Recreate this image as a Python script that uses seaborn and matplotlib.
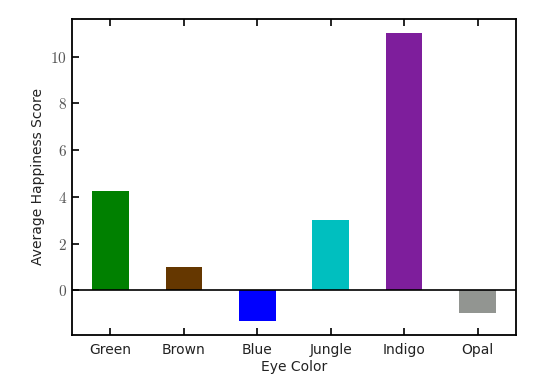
import matplotlib
matplotlib.use("Agg")
import matplotlib.pyplot as plt
import seaborn as sns
import pandas as pd

eye_colors = ["Green", "Brown", "Blue", "Jungle", "Indigo", "Opal"]
happiness = [4.25, 1.0, -1.3, 3.0, 11.0, -0.95]
bar_colors = ["#008000", "#653700", "#0000ff", "#00bfbf", "#7e1e9c", "#929591"]

sns.set_style("white")
plt.rcParams["font.family"] = ["DejaVu Sans"]
plt.rcParams["mathtext.fontset"] = "cm"

df = pd.DataFrame({"Eye Color": eye_colors, "Average Happiness Score": happiness})

fig, ax = plt.subplots(figsize=(5.37, 3.86), dpi=100)
sns.barplot(data=df, x="Eye Color", y="Average Happiness Score", hue="Eye Color",
            palette=bar_colors, width=0.5, legend=False, ax=ax,
            edgecolor="none", saturation=1)
ax.margins(x=0.05, y=0.05)
ax.set_xlim(-0.525, 5.525)
ax.axhline(0, color="black", lw=1.2)

for s in ax.spines.values():
    s.set_visible(True)
    s.set_color("black")
    s.set_linewidth(1.3)

ax.tick_params(axis="x", direction="in", top=True, bottom=True, length=5, width=1.2,
               labelsize=10, colors="black", labelcolor="#222222", pad=6)
ax.tick_params(axis="y", direction="in", left=True, right=False, length=5, width=1.2,
               labelsize=11, colors="black", labelcolor="#555555")
yt = [0, 2, 4, 6, 8, 10]
ax.set_yticks(yt)
ax.set_yticklabels([f"${v}$" for v in yt])
ax.set_xlabel("Eye Color", fontsize=10, color="#222222", labelpad=2)
ax.set_ylabel("Average Happiness Score", fontsize=10, color="#222222")

fig.subplots_adjust(left=0.134, right=0.961, top=0.951, bottom=0.132)
fig.savefig("out.png", dpi=100)
